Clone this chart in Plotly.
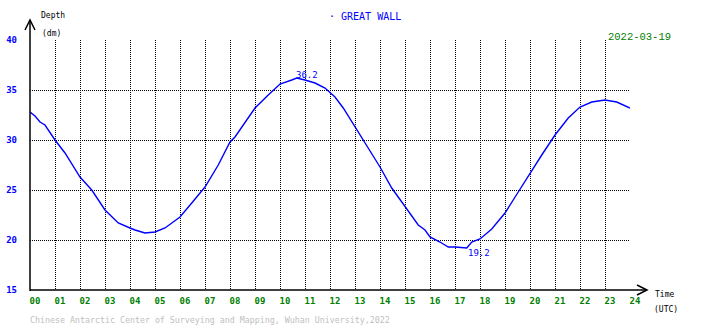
import plotly.graph_objects as go

# Tide record, GREAT WALL station, 2022-03-19 (UTC)
hours = [0.0, 0.2, 0.4, 0.6, 1.0, 1.4, 2.0, 2.47, 3.0, 3.53, 4.0, 4.2, 4.6, 5.0,
         5.4, 6.0, 6.47, 7.0, 7.53, 8.0, 8.2, 9.0, 9.53, 10.0, 10.47, 10.67,
         11.0, 11.4, 11.8, 12.2, 12.53, 13.0, 13.4, 14.0, 14.47, 15.0, 15.53,
         15.8, 16.0, 16.4, 16.73, 17.0, 17.47, 17.67, 18.0, 18.47, 19.0, 19.53,
         20.0, 20.47, 21.0, 21.53, 22.0, 22.47, 23.0, 23.47, 24.0]
depth_dm = [32.8, 32.4, 31.8, 31.5, 30.0, 28.7, 26.3, 25.0, 23.0, 21.7, 21.2, 21.0,
            20.7, 20.8, 21.2, 22.3, 23.7, 25.3, 27.5, 29.8, 30.3, 33.2, 34.5, 35.6,
            36.0, 36.2, 36.0, 35.7, 35.2, 34.3, 33.2, 31.3, 29.8, 27.3, 25.2, 23.3,
            21.5, 21.0, 20.3, 19.8, 19.3, 19.3, 19.2, 19.8, 20.1, 21.1, 22.7, 24.8,
            26.7, 28.5, 30.5, 32.2, 33.3, 33.8, 34.0, 33.8, 33.2]

x_ticks = list(range(0, 25))
x_tick_labels = [f"{h:02d}" for h in x_ticks]
y_ticks = [15, 20, 25, 30, 35, 40]

station = "GREAT WALL"
date_label = "2022-03-19"
credit = "Chinese Antarctic Center of Surveying and Mapping, Wuhan University,2022"

W, H = 710, 328
L, R, T, B = 30, 80, 40, 38
MONO = "DejaVu Sans Mono"


def px(x):
    """pixel column -> paper x"""
    return (x - L) / (W - L - R)


def py(y):
    """pixel row -> paper y"""
    return (H - B - y) / (H - T - B)


fig = go.Figure()
fig.add_trace(go.Scatter(x=hours, y=depth_dm, mode="lines",
                         line=dict(color="#0000ff", width=1.4),
                         hoverinfo="skip", showlegend=False))

i_max = depth_dm.index(max(depth_dm))
i_min = depth_dm.index(min(depth_dm))

annotations = [
    dict(x=hours[i_max], y=depth_dm[i_max], xref="x", yref="y",
         text=f"{depth_dm[i_max]:.1f}", showarrow=False, xanchor="left",
         yanchor="bottom", xshift=-3, yshift=-4,
         font=dict(family=MONO, size=9, color="#0000ff")),
    dict(x=hours[i_min], y=depth_dm[i_min], xref="x", yref="y",
         text=f"{depth_dm[i_min]:.1f}", showarrow=False, xanchor="left",
         yanchor="top", xshift=-1, yshift=2,
         font=dict(family=MONO, size=9, color="#0000ff")),
    dict(x=px(327), y=py(17), xref="paper", yref="paper", text="· " + station,
         showarrow=False, xanchor="left", yanchor="middle",
         font=dict(family=MONO, size=10, color="#0000ff")),
    dict(x=px(673), y=py(37), xref="paper", yref="paper", text=date_label,
         showarrow=False, xanchor="right", yanchor="middle",
         font=dict(family="Liberation Mono", size=10.5, color="#008000")),
    dict(x=px(39), y=py(16), xref="paper", yref="paper", text="Depth",
         showarrow=False, xanchor="left", yanchor="middle",
         font=dict(family=MONO, size=8, color="black")),
    dict(x=px(40), y=py(34), xref="paper", yref="paper", text="(dm)",
         showarrow=False, xanchor="left", yanchor="middle",
         font=dict(family=MONO, size=8, color="black")),
    dict(x=px(653), y=py(294), xref="paper", yref="paper", text="Time",
         showarrow=False, xanchor="left", yanchor="middle",
         font=dict(family=MONO, size=8, color="black")),
    dict(x=px(652), y=py(309), xref="paper", yref="paper", text="(UTC)",
         showarrow=False, xanchor="left", yanchor="middle",
         font=dict(family=MONO, size=8, color="black")),
    dict(x=px(28), y=py(320), xref="paper", yref="paper", text=credit,
         showarrow=False, xanchor="left", yanchor="middle",
         font=dict(family=MONO, size=8.3, color="#c0c0c0")),
]

axis_line = dict(color="black", width=1.5)
shapes = [
    # vertical axis with arrowhead
    dict(type="line", xref="paper", yref="paper", x0=px(30), x1=px(30),
         y0=py(291), y1=py(21), line=axis_line),
    dict(type="path", xref="paper", yref="paper",
         path=f"M {px(25)} {py(30)} L {px(30)} {py(20)} L {px(35)} {py(30)}",
         line=axis_line),
    # horizontal axis with arrowhead
    dict(type="line", xref="paper", yref="paper", x0=px(30), x1=px(646),
         y0=py(290), y1=py(290), line=axis_line),
    dict(type="path", xref="paper", yref="paper",
         path=f"M {px(637)} {py(285)} L {px(647)} {py(290)} L {px(637)} {py(295)}",
         line=axis_line),
]

fig.update_layout(
    width=W, height=H,
    margin=dict(l=L, r=R, t=T, b=B, pad=0, autoexpand=False),
    paper_bgcolor="white", plot_bgcolor="white",
    annotations=annotations, shapes=shapes,
    xaxis=dict(range=[0, 24], tickvals=x_ticks, ticktext=x_tick_labels,
               automargin=False,
               showgrid=True, gridcolor="black", gridwidth=1, griddash="1px,1px",
               zeroline=False, showline=False, ticks="",
               ticklabelshift=5, ticklabelstandoff=4,
               tickfont=dict(family=MONO, size=9, color="#008000", weight="bold")),
    yaxis=dict(range=[15, 40], tickvals=y_ticks, automargin=False,
               showgrid=True, gridcolor="black", gridwidth=1, griddash="1px,1px",
               zeroline=False, showline=False, ticks="", ticklabelstandoff=12,
               tickfont=dict(family=MONO, size=9, color="#0000ff", weight="bold")),
)

fig.write_html("out.html")
